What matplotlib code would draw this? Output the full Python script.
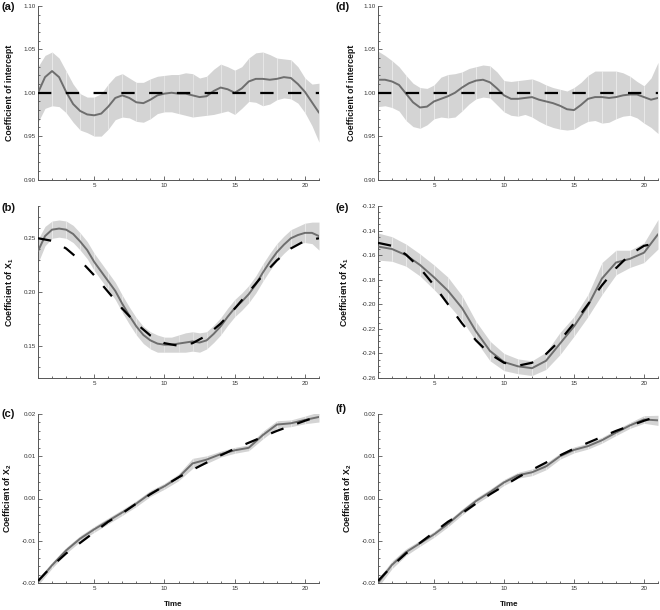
import numpy as np
import matplotlib
matplotlib.use('Agg')
import matplotlib.pyplot as plt
from matplotlib.ticker import MultipleLocator, FormatStrFormatter

plt.rcParams['font.family'] = ['Liberation Sans', 'DejaVu Sans']
plt.rcParams['mathtext.fontset'] = 'custom'
plt.rcParams['mathtext.rm'] = 'Liberation Sans'
plt.rcParams['mathtext.bf'] = 'Liberation Sans:bold'

# ---------------- data ----------------
time_half = np.arange(1, 21.01, 0.5)   # 1, 1.5, ..., 21
time_int = np.arange(1, 22)            # 1, 2, ..., 21

# (a) intercept, model 1
est_a = [1.000, 1.018, 1.025, 1.018, 1.001, 0.987, 0.979, 0.975, 0.974, 0.976,
         0.984, 0.994, 0.997, 0.994, 0.989, 0.988, 0.992, 0.997, 0.999, 1.000,
         0.999, 0.999, 0.997, 0.995, 0.996, 1.002, 1.006, 1.004, 1.000, 1.005,
         1.013, 1.016, 1.016, 1.015, 1.016, 1.018, 1.017, 1.010, 1.001, 0.989, 0.977]
hi_a = [1.030, 1.043, 1.047, 1.040, 1.025, 1.010, 0.999, 0.995, 0.995, 0.999,
        1.010, 1.019, 1.022, 1.017, 1.012, 1.012, 1.016, 1.019, 1.020, 1.021,
        1.021, 1.023, 1.022, 1.017, 1.019, 1.027, 1.033, 1.030, 1.026, 1.030,
        1.040, 1.046, 1.047, 1.044, 1.040, 1.039, 1.038, 1.030, 1.017, 1.010, 1.011]
lo_a = [0.966, 0.982, 0.985, 0.984, 0.977, 0.966, 0.957, 0.954, 0.950, 0.950,
        0.958, 0.969, 0.972, 0.971, 0.967, 0.966, 0.970, 0.976, 0.978, 0.978,
        0.976, 0.974, 0.972, 0.973, 0.974, 0.975, 0.977, 0.979, 0.975, 0.982,
        0.990, 0.989, 0.985, 0.987, 0.992, 0.994, 0.993, 0.988, 0.977, 0.962, 0.943]
true_a = [1.0] * 21

# (b) coefficient of X1, model 1
est_b = [0.238, 0.252, 0.258, 0.259, 0.258, 0.254, 0.247, 0.239, 0.228, 0.219,
         0.210, 0.201, 0.189, 0.178, 0.168, 0.160, 0.155, 0.152, 0.151, 0.151,
         0.152, 0.153, 0.154, 0.153, 0.155, 0.161, 0.168, 0.177, 0.185, 0.191,
         0.198, 0.207, 0.218, 0.228, 0.237, 0.244, 0.250, 0.253, 0.255, 0.255, 0.252]
hw_b = [0.011, 0.009, 0.008, 0.008, 0.008, 0.008, 0.008, 0.008, 0.008, 0.008,
        0.008, 0.008, 0.008, 0.008, 0.008, 0.008, 0.008, 0.008, 0.007, 0.007,
        0.008, 0.009, 0.009, 0.009, 0.008, 0.008, 0.008, 0.008, 0.008, 0.008,
        0.008, 0.008, 0.008, 0.008, 0.008, 0.008, 0.008, 0.008, 0.009, 0.010, 0.013]
true_b = [0.250, 0.2476, 0.2405, 0.2294, 0.2155, 0.200, 0.1845, 0.1706, 0.1595, 0.1524,
          0.150, 0.1524, 0.1595, 0.1706, 0.1845, 0.200, 0.2155, 0.2294, 0.2405, 0.2476, 0.250]

# (c) coefficient of X2, model 1
est_c = [-0.0197, -0.0158, -0.0123, -0.0095, -0.0073, -0.0053, -0.0033, -0.0012, 0.0012, 0.0029,
         0.0050, 0.0083, 0.0092, 0.0105, 0.0114, 0.0120, 0.0150, 0.0175, 0.0178, 0.0186, 0.0193]
hw_c = [0.0008, 0.0007, 0.0007, 0.0007, 0.0007, 0.0007, 0.0007, 0.0007, 0.0007, 0.0007,
        0.0008, 0.0012, 0.0009, 0.0007, 0.0007, 0.0007, 0.0009, 0.0009, 0.0008, 0.0009, 0.0012]
true_x2 = [-0.0195, -0.0160, -0.0130, -0.0105, -0.0080, -0.0055, -0.0035, -0.0012, 0.0010, 0.0030,
           0.0050, 0.0068, 0.0085, 0.0102, 0.0118, 0.0132, 0.0146, 0.0160, 0.0172, 0.0184, 0.0195]

# (d) intercept, model 2
est_d = [1.015, 1.015, 1.013, 1.009, 0.999, 0.989, 0.983, 0.984, 0.990, 0.993,
         0.996, 1.000, 1.006, 1.011, 1.014, 1.015, 1.012, 1.005, 0.997, 0.993,
         0.993, 0.994, 0.995, 0.992, 0.990, 0.988, 0.985, 0.981, 0.980, 0.986,
         0.993, 0.995, 0.995, 0.994, 0.995, 0.997, 0.998, 0.998, 0.995, 0.992, 0.994]
hi_d = [1.048, 1.043, 1.037, 1.030, 1.020, 1.011, 1.006, 1.005, 1.009, 1.018,
        1.021, 1.022, 1.024, 1.028, 1.030, 1.032, 1.031, 1.024, 1.014, 1.013,
        1.014, 1.015, 1.016, 1.013, 1.009, 1.006, 1.004, 1.002, 1.006, 1.012,
        1.020, 1.025, 1.025, 1.025, 1.025, 1.023, 1.019, 1.013, 1.008, 1.017, 1.035]
lo_d = [0.984, 0.985, 0.983, 0.979, 0.968, 0.961, 0.959, 0.963, 0.970, 0.972,
        0.971, 0.972, 0.979, 0.987, 0.993, 0.995, 0.994, 0.986, 0.978, 0.974,
        0.973, 0.975, 0.972, 0.967, 0.963, 0.960, 0.958, 0.957, 0.958, 0.963,
        0.967, 0.968, 0.965, 0.966, 0.970, 0.973, 0.974, 0.971, 0.965, 0.960, 0.953]
true_d = [1.0] * 21

# (e) coefficient of X1, model 2
est_e = [-0.153, -0.155, -0.160, -0.168, -0.178, -0.189, -0.203, -0.222, -0.238, -0.247,
         -0.2505, -0.252, -0.246, -0.232, -0.218, -0.201, -0.179, -0.166, -0.163, -0.158, -0.143]
hw_e = [0.011, 0.010, 0.009, 0.009, 0.010, 0.011, 0.010, 0.008, 0.008, 0.007,
        0.006, 0.006, 0.007, 0.009, 0.008, 0.009, 0.013, 0.010, 0.007, 0.008, 0.012]
true_e = [-0.150, -0.1524, -0.1595, -0.1706, -0.1845, -0.200, -0.2155, -0.2294, -0.2405, -0.2476,
          -0.250, -0.2476, -0.2405, -0.2294, -0.2155, -0.200, -0.1845, -0.1706, -0.1595, -0.1524, -0.150]

# (f) coefficient of X2, model 2
est_f = [-0.0200, -0.0157, -0.0127, -0.0106, -0.0085, -0.0060, -0.0032, -0.0006, 0.0015, 0.0038,
         0.0055, 0.0062, 0.0076, 0.0100, 0.0115, 0.0124, 0.0138, 0.0156, 0.0173, 0.0187, 0.0185]
hw_f = [0.0010, 0.0009, 0.0008, 0.0007, 0.0007, 0.0007, 0.0007, 0.0007, 0.0007, 0.0007,
        0.0007, 0.0008, 0.0008, 0.0007, 0.0007, 0.0007, 0.0007, 0.0007, 0.0007, 0.0009, 0.0012]

panel_labels = ['(a)', '(b)', '(c)', '(d)', '(e)', '(f)']
ylabels = ['Coefficient of intercept', r'Coefficient of X$_{\mathbf{1}}$', r'Coefficient of X$_{\mathbf{2}}$']

# ---------------- style ----------------
BAND = '#d4d4d4'
EST = '#6e6e6e'
AXC = '#555555'
TXT = '#333333'

fig = plt.figure(figsize=(6.6, 6.1), dpi=100)
W, H = 660.0, 610.0

def rect(x0, x1, ytop, ybot):
    return [x0 / W, 1 - ybot / H, (x1 - x0) / W, (ybot - ytop) / H]

cols = [(38, 319), (378, 658)]
rows = [(6, 179.5), (206, 378), (414, 583)]

def band(ax, t, lo, hi):
    t = np.asarray(t, float); lo = np.asarray(lo, float); hi = np.asarray(hi, float)
    for k in range(1, 21):
        m = (t >= k) & (t <= k + 1)
        ax.fill_between(t[m], lo[m], hi[m], color=BAND, lw=0, antialiased=True)
    ks = np.arange(2, 21)
    idx = [int(np.argmin(np.abs(t - k))) for k in ks]
    ax.vlines(ks, lo[idx], hi[idx], colors='white', lw=0.5, alpha=0.45)

def style(ax, ylim, major, minor, xlabel=False):
    ax.set_xlim(1, 21)
    ax.set_ylim(*ylim)
    for s in ['top', 'right']:
        ax.spines[s].set_visible(False)
    for s in ['left', 'bottom']:
        ax.spines[s].set_color(AXC)
        ax.spines[s].set_linewidth(0.7)
    ax.xaxis.set_major_locator(MultipleLocator(5))
    ax.xaxis.set_minor_locator(MultipleLocator(1))
    ax.yaxis.set_major_locator(MultipleLocator(major))
    ax.yaxis.set_minor_locator(MultipleLocator(minor))
    ax.yaxis.set_major_formatter(FormatStrFormatter('%.2f'))
    ax.tick_params(which='both', direction='in', colors=AXC, labelcolor=TXT,
                   labelsize=4.5, width=0.6)
    ax.tick_params(axis='y', pad=1.5)
    ax.tick_params(axis='x', pad=2.2)
    ax.tick_params(which='major', length=3.2)
    ax.tick_params(which='minor', length=1.6)
    if xlabel:
        ax.set_xlabel('Time', fontsize=5.8, fontweight='bold', color='#111111')

ylims = [(0.90, 1.10), (0.12, 0.28), (-0.02, 0.02)]
ylims_r = [(0.90, 1.10), (-0.26, -0.12), (-0.02, 0.02)]
majors = [0.05, 0.05, 0.01]
minors = [0.01, 0.01, 0.002]
majors_r = [0.05, 0.02, 0.01]
minors_r = [0.01, 0.005, 0.002]

panels = [
    (0, 0, time_half, est_a, np.array(lo_a), np.array(hi_a), time_int, true_a),
    (0, 1, time_half, est_b, np.array(est_b) - np.array(hw_b), np.array(est_b) + np.array(hw_b), time_int, true_b),
    (0, 2, time_int, est_c, np.array(est_c) - np.array(hw_c), np.array(est_c) + np.array(hw_c), time_int, true_x2),
    (1, 0, time_half, est_d, np.array(lo_d), np.array(hi_d), time_int, true_d),
    (1, 1, time_int, est_e, np.array(est_e) - np.array(hw_e), np.array(est_e) + np.array(hw_e), time_int, true_e),
    (1, 2, time_int, est_f, np.array(est_f) - np.array(hw_f), np.array(est_f) + np.array(hw_f), time_int, true_x2),
]

label_y = [7, 208, 414, 7.5, 208, 409]
label_x = [1, 1, 1, 335, 335, 335]
ylabel_x = [-0.087, -0.080, -0.087, -0.080, -0.098, -0.0875]

for i, (c, r, t, est, lo, hi, tt, tv) in enumerate(panels):
    ax = fig.add_axes(rect(cols[c][0], cols[c][1], rows[r][0], rows[r][1]))
    band(ax, t, lo, hi)
    ax.plot(t, est, color=EST, lw=1.4, solid_capstyle='round', zorder=3)
    ax.plot(tt, tv, color='black', lw=1.6, dashes=(6.0, 6.5), zorder=4)
    if c == 0:
        style(ax, ylims[r], majors[r], minors[r], xlabel=(r == 2))
    else:
        style(ax, ylims_r[r], majors_r[r], minors_r[r], xlabel=(r == 2))
    ax.set_ylabel(ylabels[r], fontsize=6.3, fontweight='bold', color='#111111')
    ax.yaxis.set_label_coords(ylabel_x[i], 0.5)
    if r == 2:
        ax.xaxis.set_label_coords(0.48 if c == 0 else 0.47, -0.108)
    fig.text(label_x[i] / W, 1 - label_y[i] / H, panel_labels[i], fontsize=8,
             fontweight='bold', va='center', ha='left', color='#111111')

fig.savefig('out.png', dpi=100)
